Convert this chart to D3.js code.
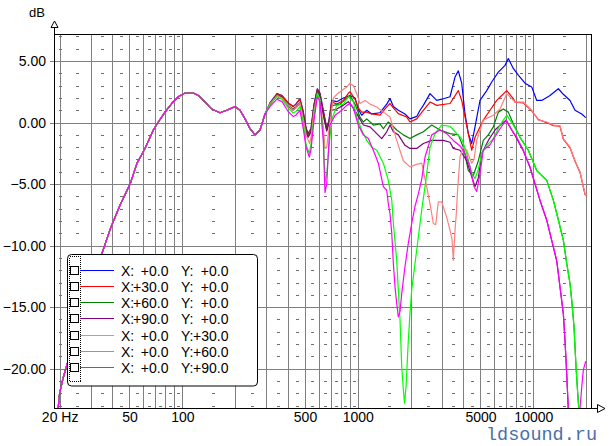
<!DOCTYPE html>
<html><head><meta charset="utf-8">
<script src="https://cdn.jsdelivr.net/npm/d3@7"></script>
<style>
body{margin:0;background:#fff}
svg{display:block}
.sans{font-family:"Liberation Sans",Arial,sans-serif}
.mono{font-family:"Liberation Mono","Courier New",monospace}
</style>
</head><body>
<svg id="chart" width="609" height="446"></svg>
<script>
// ---------- DATA (Hz, dB) ----------
const sharedLow = [[19.5,-23.6],[20,-22.0],[20.9,-20.8],[22.0,-19.7],[26.1,-16.3],[29.8,-13.7],[34.7,-10.7],[39.2,-8.5],[44.2,-6.7],[50.4,-5.0],[55.2,-3.3],[61.3,-2.1],[68.4,-0.6],[73.0,0.05],[79.7,0.85],[87.0,1.55],[94.9,2.1],[103.6,2.4],[115.5,2.4],[123.4,2.2],[134.7,1.67],[147.1,1.1],[164,0.8],[179.1,1.0],[199.7,1.3],[213.2,1.0],[227.7,0.3],[243.1,-0.5],[259.6,-1.0],[277.2,-0.6],[296,0.7]];

const blueHi = [[316,1.6],[346,2.35],[370,2.2],[401,1.6],[428,1.3],[444,1.5],[468,1.95],[489,0.9],[507,-0.4],[520,-0.9],[541,-0.5],[563,1.5],[588,2.75],[609,2.4],[636,1.0],[665,-0.45],[685,0.2],[710,1.8],[758,1.7],[827,2.0],[903,2.2],[964,2.0],[1006,1.1],[1052,0.6],[1124,1.0],[1200,0.7],[1338,0.8],[1461,1.5],[1526,1.95],[1594,1.3],[1701,1.0],[1857,0.7],[1983,0.3],[2166,0.5],[2262,1.0],[2362,1.4],[2579,2.35],[2817,1.8],[3006,1.9],[3353,2.1],[3580,3.7],[3738,4.2],[3908,3.2],[4082,0.7],[4262,-0.9],[4457,-1.7],[4654,-0.35],[4969,1.8],[5427,2.6],[5794,3.3],[6319,4.1],[6898,4.65],[7203,5.2],[7691,4.4],[8211,3.85],[8968,3.2],[9792,2.9],[10457,1.8],[11166,1.8],[12451,2.2],[13884,2.75],[14825,2.3],[16187,1.8],[17287,1.0],[18873,0.7],[19889,0.4]];

const redHi = [[316,1.6],[346,2.3],[370,2.2],[401,1.6],[428,1.3],[444,1.5],[468,1.9],[489,0.8],[507,-0.5],[520,-1.0],[541,-0.5],[563,1.4],[588,2.7],[609,2.3],[636,0.9],[665,-0.5],[685,0.1],[710,1.7],[758,1.5],[827,1.8],[885,2.4],[903,2.5],[964,1.9],[1006,1.2],[1052,0.85],[1124,0.85],[1200,0.7],[1338,0.6],[1461,1.27],[1526,1.55],[1594,1.2],[1701,0.73],[1899,0.45],[1983,0.05],[2166,0.3],[2362,1.0],[2579,1.67],[2817,1.4],[3353,1.55],[3738,2.6],[3908,1.8],[4262,-0.9],[4457,-2.25],[4654,-1.2],[5188,0.2],[5667,1.0],[6186,1.8],[6606,2.2],[7054,2.6],[7691,1.95],[7865,1.67],[8771,1.6],[9792,0.95],[10679,0.25],[11925,0.0],[13002,-0.25],[14195,-0.3],[14825,-1.35],[16187,-2.05],[17287,-3.15],[18457,-4.05],[19707,-5.85],[20230,-5.95]];

const greenHi = [[316,1.5],[346,2.25],[370,2.1],[401,1.4],[428,1.1],[444,1.3],[468,1.65],[489,0.6],[507,-0.7],[520,-1.1],[541,-0.7],[563,1.2],[588,2.6],[609,2.2],[636,0.7],[665,-0.6],[685,0.0],[710,1.3],[725,1.4],[792,1.5],[865,2.0],[903,2.2],[964,1.5],[1029,0.45],[1075,0.05],[1124,0.3],[1226,-0.2],[1338,-0.1],[1398,-0.5],[1492,0.05],[1561,-0.2],[1666,-0.6],[1817,-1.0],[1983,-1.3],[2166,-1.0],[2362,-0.75],[2637,-0.2],[2941,-0.6],[3353,-0.9],[3738,-1.0],[3992,-2.0],[4262,-3.9],[4551,-4.3],[4861,-3.1],[5188,-1.45],[5541,-1.0],[5918,-0.35],[6319,0.85],[6747,1.1],[7203,0.85],[7691,-0.1],[8400,-1.2],[9365,-2.25],[10457,-3.9],[11925,-4.7],[13002,-6.3],[13884,-7.9],[14825,-9.55],[15499,-11.45],[16187,-13.1],[16550,-14.45],[17055,-16.6],[17509,-19.85],[17904,-22.0],[18212,-23.5]];

const purpleHi = [[316,1.45],[346,2.2],[370,2.05],[401,1.35],[428,1.0],[444,1.2],[468,1.55],[489,0.5],[507,-0.8],[520,-1.2],[541,-0.8],[563,1.1],[588,2.5],[609,2.1],[636,0.6],[665,-0.7],[685,-0.1],[710,1.0],[758,1.1],[827,1.4],[883,1.7],[920,1.4],[986,0.73],[1075,-0.2],[1174,-0.35],[1282,-0.9],[1368,-1.3],[1461,-0.75],[1526,-0.2],[1594,-0.75],[1701,-1.0],[1857,-1.85],[1983,-2.1],[2166,-2.1],[2362,-1.7],[2637,-1.45],[3071,-1.45],[3353,-1.6],[3501,-2.1],[3822,-2.25],[4174,-3.1],[4457,-4.4],[4654,-5.2],[4861,-4.5],[5082,-2.5],[5541,-1.45],[6050,-0.6],[6606,-0.1],[6989,0.2],[7533,-0.6],[8044,-1.3],[8771,-2.3],[9577,-3.65],[10226,-5.0],[10919,-6.35],[11925,-7.95],[12730,-9.6],[13594,-11.25],[14195,-13.4],[14825,-15.55],[15157,-17.75],[15499,-20.45],[15830,-23.35],[16187,-25]];

const salmonHi = [[316,1.5],[346,2.2],[370,2.0],[401,1.4],[428,1.0],[444,1.2],[468,1.6],[489,0.3],[507,-1.0],[531,-1.7],[541,-1.2],[563,1.0],[588,2.3],[609,1.8],[636,-0.3],[650,-2.1],[665,-2.0],[685,-0.5],[725,2.0],[761,2.3],[810,2.6],[865,2.9],[903,3.2],[943,3.0],[986,2.35],[1029,1.55],[1101,1.8],[1174,1.5],[1282,1.27],[1398,0.85],[1526,0.45],[1594,-0.5],[1666,-1.45],[1817,-3.1],[1983,-3.6],[2166,-3.4],[2313,-3.3],[2469,-5.2],[2579,-6.6],[2693,-8.2],[2779,-8.3],[2875,-6.45],[3006,-6.45],[3211,-7.7],[3353,-8.75],[3442,-9.5],[3501,-11.2],[3580,-8.75],[3641,-7.4],[3690,-5.8],[3738,-4.7],[3822,-2.8],[3992,-2.0],[4174,-2.25],[4457,-3.3],[4593,-3.0],[4759,-1.45],[5188,0.2],[5918,0.6],[6462,1.1],[7054,2.35],[7865,1.67],[8771,1.67],[9792,1.0],[10679,0.2],[11925,0.05],[13002,-0.2],[14195,-0.25],[14825,-1.3],[16187,-2.0],[17287,-3.1],[18457,-4.0],[19707,-5.8],[20230,-5.9]];

const limeHi = [[316,1.5],[346,2.1],[370,1.9],[401,1.2],[428,0.8],[444,0.9],[468,1.3],[489,0.0],[507,-1.8],[529,-2.5],[541,-1.8],[563,0.5],[588,2.4],[609,1.9],[636,-1.0],[650,-4.8],[665,-4.2],[685,-2.0],[710,0.2],[758,1.4],[827,1.5],[883,2.1],[943,1.7],[986,0.45],[1052,-0.6],[1124,-1.45],[1200,-2.0],[1282,-2.25],[1398,-3.3],[1492,-4.7],[1561,-6.3],[1594,-8.2],[1666,-11.2],[1701,-13.6],[1740,-16.05],[1779,-19.85],[1817,-21.7],[1846,-22.8],[1882,-21.5],[1940,-17.7],[1983,-15.5],[2028,-13.6],[2118,-11.45],[2212,-9.3],[2313,-7.1],[2415,-5.2],[2469,-4.15],[2579,-2.0],[2754,-0.9],[3006,-0.2],[3353,-0.3],[3660,-0.9],[3908,-1.3],[4174,-2.5],[4457,-4.15],[4654,-4.55],[4861,-3.8],[5082,-2.5],[5427,-1.85],[5918,-1.3],[6462,-0.2],[7054,0.6],[7691,-0.2],[8400,-1.2],[9365,-2.25],[10457,-3.9],[11925,-4.7],[13002,-6.3],[13884,-7.9],[14825,-9.55],[15499,-11.45],[16187,-13.1],[16550,-14.45],[17055,-16.6],[17509,-19.85],[17904,-22.0],[18212,-23.5]];

const magentaHi = [[316,1.3],[346,1.9],[370,1.7],[401,0.9],[428,0.5],[444,0.6],[468,1.0],[489,-0.5],[507,-2.0],[529,-2.8],[541,-2.2],[563,0.2],[588,2.1],[609,1.7],[636,-1.5],[650,-5.7],[665,-5.0],[679,-2.5],[694,-0.2],[742,0.6],[810,1.0],[865,1.4],[903,1.55],[943,1.2],[1006,-0.2],[1075,-1.0],[1148,-1.3],[1226,-2.25],[1309,-3.3],[1398,-5.2],[1461,-5.5],[1492,-6.6],[1526,-7.4],[1561,-9.0],[1594,-11.45],[1629,-13.35],[1666,-14.7],[1701,-15.8],[1740,-15.35],[1779,-13.9],[1857,-11.7],[1940,-9.8],[2028,-8.2],[2118,-6.8],[2212,-5.8],[2313,-4.6],[2415,-2.8],[2637,-1.0],[2941,-0.6],[3211,-0.9],[3501,-1.45],[3822,-1.9],[4082,-2.5],[4358,-3.6],[4593,-5.2],[4759,-5.6],[4969,-4.15],[5188,-2.25],[5667,-1.8],[6462,-0.5],[6989,0.2],[7533,-0.6],[8044,-1.2],[8771,-2.25],[9577,-3.6],[10226,-4.95],[10919,-6.3],[11925,-7.9],[12730,-9.55],[13594,-11.2],[14195,-13.35],[14825,-15.5],[15157,-17.7],[15499,-20.4],[15830,-23.3],[16187,-25],[17974,-25],[18457,-23.2],[18873,-21.5],[19272,-20.1],[19889,-19.4]];

const seriesHi = [blueHi, redHi, greenHi, purpleHi, salmonHi, limeHi, magentaHi];
const seriesColors = ["#0000ff","#ff0000","#008000","#800080","#ff8080","#00ff00","#ff00ff"];
const legendX = ["+0.0","+30.0","+60.0","+90.0","+0.0","+0.0","+0.0"];
const legendY = ["+0.0","+0.0","+0.0","+0.0","+30.0","+60.0","+90.0"];
const yTickValues = [-20,-15,-10,-5,0,5];
const xLabelValues = [20,50,100,500,1000,5000,10000];

// ---------- LAYOUT ----------
const L = 54.5, R = 591.5, T = 34.5, B = 408.5;
const SANS = "'Liberation Sans',Arial,sans-serif";
const svg = d3.select("#chart");
const x = d3.scaleLog().domain([18.82, 21510]).range([55, 591.7]);
const y = d3.scaleLinear().domain([-23.2, 7.2]).range([408, 34]);
const px = v => Math.round(v) + 0.5;

// grid
const grid = svg.append("g").attr("shape-rendering","crispEdges");
const gridFreqs = [];
[10,100,1000,10000].forEach(dec => { for (let k=1;k<=9;k++){ const v=k*dec; if (v>=x.domain()[0] && v<=x.domain()[1]) gridFreqs.push(v);} });
grid.selectAll(".vg").data(gridFreqs).join("line")
  .attr("x1",d=>px(x(d))).attr("x2",d=>px(x(d))).attr("y1",T).attr("y2",B)
  .attr("stroke","#808080");
grid.selectAll(".hg").data(yTickValues).join("line")
  .attr("x1",50).attr("x2",R).attr("y1",d=>px(y(d))).attr("y2",d=>px(y(d)))
  .attr("stroke","#808080");

// minor dashes
const dashFreqs = [20];
[10,100,1000,10000].forEach(dec => { for (let k=1.5;k<10;k+=1){ const v=k*dec; if (v>=x.domain()[0] && v<=x.domain()[1]) dashFreqs.push(v);} });
const dashDb = d3.range(-23, 8).filter(v => v % 5 !== 0);
const dashes = [];
dashFreqs.forEach(f => dashDb.forEach(v => dashes.push([f,v])));
grid.selectAll(".dash").data(dashes).join("rect")
  .attr("x",d=>Math.round(x(d[0]))-1).attr("y",d=>Math.round(y(d[1])))
  .attr("width",3).attr("height",1).attr("fill","#707070");

// curves
svg.append("clipPath").attr("id","plotclip").append("rect")
  .attr("x",55).attr("y",35).attr("width",R-55).attr("height",B-35.5);
const line = d3.line().x(d=>x(d[0])).y(d=>y(d[1]));
const curves = svg.append("g").attr("clip-path","url(#plotclip)");
seriesHi.forEach((s,i) => {
  curves.append("path").datum(sharedLow.concat(s))
    .attr("d", line).attr("fill","none")
    .attr("stroke", seriesColors[i]).attr("stroke-width",1.2)
    .attr("stroke-linejoin","round");
});

// frame & axes
const frame = svg.append("g").attr("shape-rendering","crispEdges").attr("stroke","#000").attr("fill","none");
frame.append("line").attr("x1",L).attr("x2",L).attr("y1",27.5).attr("y2",B);
frame.append("line").attr("x1",L).attr("x2",597.5).attr("y1",B).attr("y2",B);
frame.append("line").attr("x1",L).attr("x2",R).attr("y1",T).attr("y2",T);
frame.append("line").attr("x1",R).attr("x2",R).attr("y1",T).attr("y2",B);
svg.append("path").attr("d","M54.5,21 L51,27.5 L58,27.5 Z").attr("fill","#fff").attr("stroke","#000");
svg.append("path").attr("d","M605,408.5 L597.5,404.5 L597.5,412.5 Z").attr("fill","#fff").attr("stroke","#000");

// y labels
const yAxis = d3.axisLeft(y).tickValues(yTickValues).tickSize(0).tickPadding(9).tickFormat(d3.format(".2f"));
const gy = svg.append("g").attr("transform","translate(55,0)").call(yAxis);
gy.select(".domain").remove();
gy.selectAll("text").attr("font-size",14).style("font-family",SANS).attr("fill","#000");

// x labels
const xAxis = d3.axisBottom(x).tickValues(xLabelValues).tickSize(0).tickPadding(4)
  .tickFormat(d => d === 20 ? "20 Hz" : String(d));
const gx = svg.append("g").attr("transform","translate(0,408)").call(xAxis);
gx.select(".domain").remove();
gx.selectAll("text").attr("font-size",14).style("font-family",SANS).attr("fill","#000");

svg.append("text").attr("class","sans").attr("x",45).attr("y",17).attr("text-anchor","end").attr("font-size",13).text("dB");

// legend
const lg = svg.append("g").attr("class","sans");
lg.append("rect").attr("x",67.5).attr("y",254.5).attr("width",190).attr("height",131.5).attr("rx",4)
  .attr("fill","#fff").attr("stroke","#000");
lg.append("rect").attr("x",69.5).attr("y",256.5).attr("width",11).attr("height",125)
  .attr("fill","none").attr("stroke","#000").attr("stroke-dasharray","1,1").attr("shape-rendering","crispEdges");
seriesColors.forEach((c,i) => {
  const cy = 269.5 + i*16.3;
  const yy = Math.round(cy) + 0.5;
  lg.append("rect").attr("x",70.5).attr("y",yy-4.5).attr("width",8).attr("height",8)
    .attr("fill","#fff").attr("stroke","#000").attr("shape-rendering","crispEdges");
  lg.append("line").attr("x1",80).attr("x2",114).attr("y1",yy).attr("y2",yy)
    .attr("stroke",c).attr("stroke-width",1.2);
  const ty = yy + 5;
  lg.append("text").attr("x",121).attr("y",ty).attr("font-size",14).text("X:");
  lg.append("text").attr("x",168.5).attr("y",ty).attr("font-size",14).attr("text-anchor","end").text(legendX[i]);
  lg.append("text").attr("x",181).attr("y",ty).attr("font-size",14).text("Y:");
  lg.append("text").attr("x",228.5).attr("y",ty).attr("font-size",14).attr("text-anchor","end").text(legendY[i]);
});

// watermark
svg.append("text").attr("class","mono").attr("x",486).attr("y",440.4)
  .attr("font-size",18.5).attr("fill","#4a70aa").text("ldsound.ru");
</script>
</body></html>
